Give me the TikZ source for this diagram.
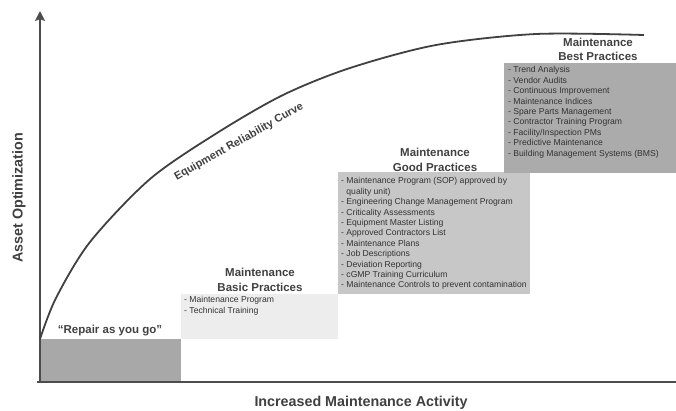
\documentclass[tikz,border=0pt]{standalone}
\usepackage{fontspec}
\setmainfont{Liberation Sans}
\usetikzlibrary{arrows.meta}

\begin{document}
\begin{tikzpicture}[x=1pt,y=-1pt,
  stagetitle/.style={font=\fontsize{11.5}{14.5}\selectfont\bfseries,text=black!75,align=center,inner sep=0pt},
  stagelist/.style={font=\fontsize{8.6}{10.4}\selectfont,text=black!80,align=left,anchor=north west,inner sep=0pt},
  axistitle/.style={font=\fontsize{14.3}{17}\selectfont\bfseries,text=black!75,inner sep=0pt}]
  \useasboundingbox (0,0) rectangle (676,410);
  \fill[black!34] (40,339) rectangle (181,382);
  \fill[black!7] (181,294) rectangle (338,339);
  \fill[black!22] (338,172) rectangle (530,294);
  \fill[black!33] (504,63) rectangle (676,173);
  \draw[black!70,line width=2.4pt] (37,382) -- (676,382);
  \draw[black!70,line width=2.4pt,-{Stealth[length=10pt,width=10pt,inset=2pt]}] (40,383) -- (40,11);
  \draw[black!75,line width=1.8pt] plot[smooth] coordinates {(40,339) (56,298) (90,242) (150,179) (217,133) (283,95) (350,68) (436,45) (536,34) (644,35)};
  \node[stagetitle,font=\fontsize{11}{13}\selectfont\bfseries,rotate=29.5] (curvelabel) at (239,142) {Equipment Reliability Curve};
  \node[stagetitle] (repair) at (110,331) {“Repair as you go”};
  \node[stagetitle] (basictitle) at (260,280) {Maintenance\\Basic Practices};
  \node[stagetitle] (goodtitle) at (435,160) {Maintenance\\Good Practices};
  \node[stagetitle] (besttitle) at (598,49.5) {Maintenance\\Best Practices};
  \node[stagelist] (basiclist) at (184,296.5) {- Maintenance Program\\- Technical Training};
  \node[stagelist] (goodlist) at (341,177.5) {- Maintenance Program (SOP) approved by\\\phantom{- }quality unit)\\- Engineering Change Management Program\\- Criticality Assessments\\- Equipment Master Listing\\- Approved Contractors List\\- Maintenance Plans\\- Job Descriptions\\- Deviation Reporting\\- cGMP Training Curriculum\\- Maintenance Controls to prevent contamination};
  \node[stagelist] (bestlist) at (508,66.5) {- Trend Analysis\\- Vendor Audits\\- Continuous Improvement\\- Maintenance Indices\\- Spare Parts Management\\- Contractor Training Program\\- Facility/Inspection PMs\\- Predictive Maintenance\\- Building Management Systems (BMS)};
  \node[axistitle,rotate=90] (ylabel) at (19,198) {Asset Optimization};
  \node[axistitle] (xlabel) at (361,403) {Increased Maintenance Activity};
\end{tikzpicture}
\end{document}
